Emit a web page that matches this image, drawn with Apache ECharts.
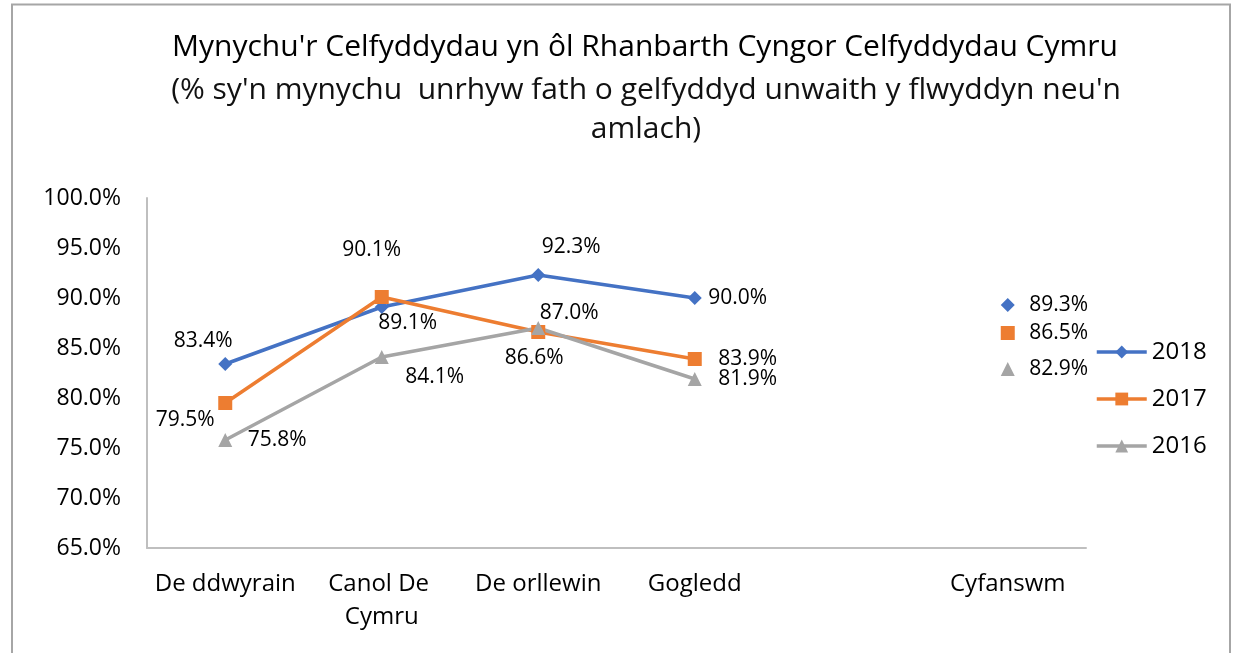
<!DOCTYPE html>
<html>
<head>
<meta charset="utf-8">
<script src="https://cdn.jsdelivr.net/npm/echarts@6/dist/echarts.min.js"></script>
<style>
  html, body { margin: 0; padding: 0; background: #fff; }
  #chart { width: 1236px; height: 653px; }
</style>
</head>
<body>
<div id="chart"></div>
<script>
// categories (empty slot between Gogledd and Cyfanswm)
const regions = ['De ddwyrain', 'Canol De Cymru', 'De orllewin', 'Gogledd', '', 'Cyfanswm'];
const years = ['2018', '2017', '2016'];
const values2018 = [83.4, 89.1, 92.3, 90.0, null, 89.3];
const values2017 = [79.5, 90.1, 86.6, 83.9, null, 86.5];
const values2016 = [75.8, 84.1, 87.0, 81.9, null, 82.9];
const yTicks = { min: 65, max: 100, step: 5 };

// label offsets from each point (styling only)
const offsets2018 = [[-22, -23], [26, 16], [33, -28], [43, 0], [0, 0], [51, 0]];
const offsets2017 = [[-40, 17], [-10, -47], [-4, 26], [53, 0], [0, 0], [51, 0]];
const offsets2016 = [[52, 0], [53, 20], [31, -15], [53, 0], [0, 0], [51, 0]];

const colors = ['#4472C4', '#ED7D31', '#A5A5A5'];
const symbols = ['diamond', 'rect', 'triangle'];
const symbolSizes = [14, 14, 14];
const labelFont = 'Open Sans';

function buildData(vals, offs) {
    return vals.map((v, i) => ({
        value: v,
        label: { offset: offs[i] }
    }));
}

const seriesVals = [values2018, values2017, values2016];
const seriesOffs = [offsets2018, offsets2017, offsets2016];

const chart = echarts.init(document.getElementById('chart'));
chart.setOption({
    animation: false,
    title: [{
        text: "Mynychu'r Celfyddydau yn ôl Rhanbarth Cyngor Celfyddydau Cymru",
        left: 640, top: 27, textAlign: 'center',
        textStyle: { fontFamily: labelFont, fontSize: 30, fontWeight: 'normal', color: '#000' }
    }, {
        text: "(% sy'n mynychu  unrhyw fath o gelfyddyd unwaith y flwyddyn neu'n\namlach)",
        left: 641, top: 66, textAlign: 'center',
        textStyle: { fontFamily: labelFont, fontSize: 30, fontWeight: 'normal', color: '#111', lineHeight: 39 }
    }],
    graphic: [{
        type: 'polyline',
        shape: { points: [[12, 660], [12, 4.5], [1230, 4.5], [1230, 660]] },
        style: { stroke: '#A6A6A6', lineWidth: 2, fill: null },
        silent: true
    }],
    legend: {
        orient: 'vertical',
        left: 1090, top: 335,
        itemWidth: 50, itemHeight: 16, itemGap: 23,
        data: years,
        lineStyle: { width: 3.5 },
        textStyle: { fontFamily: labelFont, fontSize: 24, color: '#000' }
    },
    grid: { left: 147, right: 150, top: 198, bottom: 105 },
    xAxis: {
        type: 'category',
        data: regions,
        boundaryGap: true,
        axisLine: { lineStyle: { color: '#BFBFBF', width: 2 } },
        axisTick: { show: false },
        axisLabel: {
            fontFamily: labelFont, fontSize: 24, color: '#000', margin: 20,
            width: 150, overflow: 'break', lineHeight: 33, interval: 0
        }
    },
    yAxis: {
        type: 'value',
        min: yTicks.min, max: yTicks.max, interval: yTicks.step,
        axisLine: { show: true, lineStyle: { color: '#BFBFBF', width: 2 } },
        axisTick: { show: false },
        splitLine: { show: false },
        axisLabel: {
            fontFamily: labelFont, fontSize: 23, color: '#000', margin: 26,
            formatter: v => v.toFixed(1) + '%'
        }
    },
    series: years.map((y, i) => ({
        name: y,
        type: 'line',
        data: buildData(seriesVals[i], seriesOffs[i]),
        symbol: symbols[i],
        symbolSize: symbolSizes[i],
        showAllSymbol: true,
        lineStyle: { color: colors[i], width: 3.5 },
        itemStyle: { color: colors[i] },
        label: {
            show: true,
            position: 'inside',
            fontFamily: labelFont, fontSize: 21, color: '#000',
            formatter: p => p.value == null ? '' : p.value.toFixed(1) + '%'
        }
    }))
});
</script>
</body>
</html>
